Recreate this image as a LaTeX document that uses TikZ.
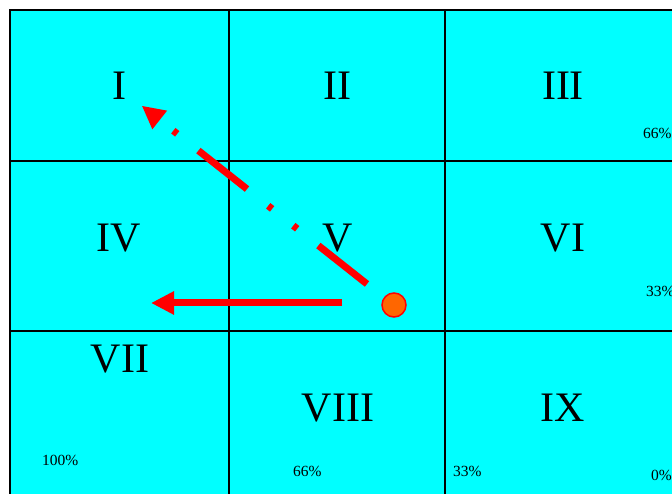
\documentclass[tikz,border=0pt]{standalone}
\usepackage{fontspec}
\setmainfont{Liberation Serif}
\usetikzlibrary{arrows.meta, positioning}
\definecolor{gridcyan}{RGB}{0,255,255}
\definecolor{movered}{RGB}{255,0,0}
\definecolor{ballorange}{RGB}{255,102,0}
\tikzset{
  roman/.style={anchor=base, inner sep=0pt, font=\fontsize{42}{42}\selectfont},
  pct/.style={anchor=base west, inner sep=0pt, font=\fontsize{15.5}{16}\selectfont},
  gridline/.style={draw=black, line width=2pt},
  ball/.style={circle, draw=movered, fill=ballorange, line width=1.5pt,
    minimum size=24pt, inner sep=0pt},
  move/.style={-{Triangle[length=23pt,width=22pt]}, movered, line width=7pt},
  jump/.style={move, dash pattern=on 62pt off 27pt on 5pt off 27pt on 5pt off 27pt}
}

\begin{document}
\begin{tikzpicture}[x=1pt, y=-1pt]
  \useasboundingbox (0,0) rectangle (672,494);
  \clip (0,0) rectangle (672,494);
  % board
  \fill[gridcyan] (10,10) rectangle (690,510);
  \draw[gridline] (10,510) -- (10,10) -- (690,10);
  \draw[gridline] (229,10) -- (229,510);
  \draw[gridline] (445,10) -- (445,510);
  \draw[gridline] (10,161) -- (690,161);
  \draw[gridline] (10,331) -- (690,331);
  % cells
  \node[roman] (c1) at (119,100) {I};
  \node[roman] (c2) at (337,100) {II};
  \node[roman] (c3) at (563,100) {III};
  \node[roman] (c4) at (119,252) {IV};
  \node[roman] (c5) at (338,252) {V};
  \node[roman] (c6) at (563,252) {VI};
  \node[roman] (c7) at (120,372) {VII};
  \node[roman] (c8) at (338,421) {VIII};
  \node[roman] (c9) at (563,421) {IX};
  % odds
  \node[pct] (p3) at (643,139) {66\%};
  \node[pct] (p6) at (646,297) {33\%};
  \node[pct] (p7) at (42,465) {100\%};
  \node[pct] (p8) at (293,476) {66\%};
  \node[pct] (p9) at (453,476) {33\%};
  \node[pct] (p0) at (651,480) {0\%};
  % piece and moves
  \node[ball] (ball) at (394,305) {};
  \coordinate (jumpfrom) at (367,284);
  \coordinate (jumpto) at (141.7,105.7);
  \coordinate (slidefrom) at (342,303);
  \coordinate (slideto) at (151,303);
  \draw[jump] (jumpfrom) -- (jumpto);
  \draw[move] (slidefrom) -- (slideto);
\end{tikzpicture}
\end{document}
